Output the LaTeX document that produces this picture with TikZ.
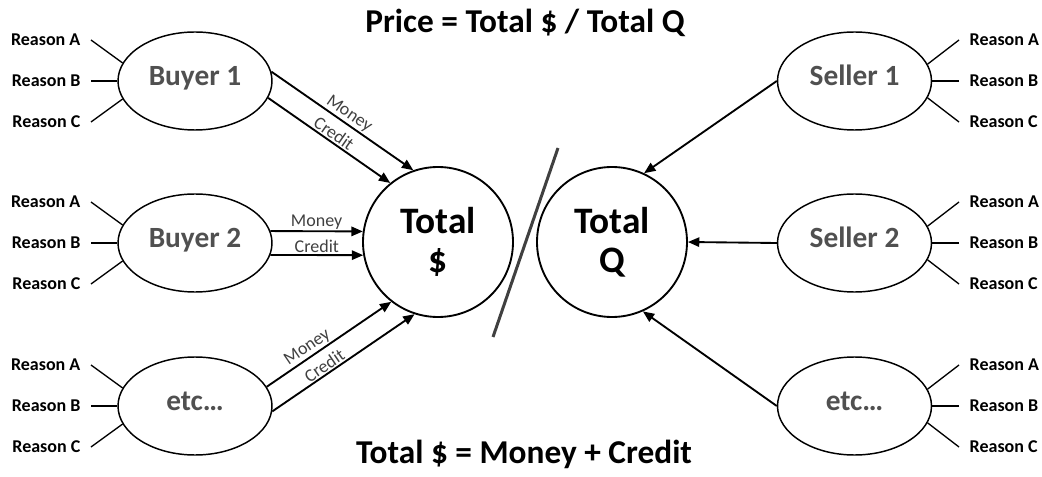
\documentclass[tikz,border=0pt]{standalone}
\usepackage{fontspec}
\setmainfont{Carlito}
\usepackage{xcolor}
\usepackage{tikz}
\usetikzlibrary{shapes.geometric, arrows.meta}
\definecolor{namegray}{HTML}{505050}
\definecolor{taggray}{HTML}{404040}

\begin{document}
\begin{tikzpicture}[x=0.75pt, y=-0.75pt, line width=1pt,
    >={Triangle[length=8.5pt, width=7pt]},
    party/.style={ellipse, draw, line width=1.1pt, minimum width=115.5pt, minimum height=73.5pt,
      inner sep=0pt, text height=0.7em, text depth=0pt,
      font=\bfseries\fontsize{22}{26}\selectfont, text=namegray},
    total/.style={circle, draw, line width=1.4pt, minimum size=112.5pt, inner sep=0pt,
      align=center, font=\bfseries\fontsize{28}{31.5}\selectfont},
    reason/.style={font=\bfseries\fontsize{13.5}{15}\selectfont, inner xsep=7.5pt, inner ysep=0pt},
    flow/.style={->, line width=1.4pt},
    tag/.style={font=\fontsize{13.5}{15}\selectfont, text=taggray, inner sep=1pt},
    heading/.style={font=\bfseries\fontsize{25}{30}\selectfont, anchor=base}]
  \useasboundingbox (0,0) rectangle (1042,477);

  \node[total] (dollar) at (438,242) {\raisebox{-2pt}{Total}\\\$};
  \node[total] (qty) at (612,242) {\raisebox{-2pt}{Total}\\Q};

  \node[party] (b1) at (195,81) {Buyer 1};
  \node[party] (b2) at (195,243) {Buyer 2};
  \node[party] (b3) at (195,406) {etc…};
  \node[party] (s1) at (854.5,81) {Seller 1};
  \node[party] (s2) at (854.5,243) {Seller 2};
  \node[party] (s3) at (854.5,406) {etc…};

  % reasons on each side
  \foreach \n/\y in {b1/81, b2/243, b3/406} {
    \node[reason, anchor=east] (\n-a) at (91,\y-41) {Reason A};
    \node[reason, anchor=east] (\n-b) at (91,\y) {Reason B};
    \node[reason, anchor=east] (\n-c) at (91,\y+41) {Reason C};
    \draw (\n-a.east) -- (\n.166);
    \draw (\n-b.east) -- (\n.west);
    \draw (\n-c.east) -- (\n.194);
  }
  \foreach \n/\y in {s1/81, s2/243, s3/406} {
    \node[reason, anchor=west] (\n-a) at (959,\y-41) {Reason A};
    \node[reason, anchor=west] (\n-b) at (959,\y) {Reason B};
    \node[reason, anchor=west] (\n-c) at (959,\y+41) {Reason C};
    \draw (\n-a.west) -- (\n.13);
    \draw (\n-b.west) -- (\n.east);
    \draw (\n-c.west) -- (\n.-13);
  }

  % buyers pay in
  \draw[flow] (b1.7) -- node[tag, sloped, above, pos=0.51] {Money} (dollar.109);
  \draw[flow] (b1.-13) -- node[tag, sloped, above] {Credit} (dollar.129);
  \draw[flow] (b2.9) -- node[tag, above] {Money} (dollar.172);
  \draw[flow] (b2.-9) -- node[tag, above] {Credit} (dollar.190);
  \draw[flow] (b3.15) -- node[tag, sloped, above, pos=0.37] {Money} (dollar.232);
  \draw[flow] (b3.-4) -- node[tag, sloped, above, pos=0.4] {Credit} (dollar.252);

  % sellers supply
  \draw[flow] (s1.west) -- (qty.65);
  \draw[flow] (s2.west) -- (qty.east);
  \draw[flow] (s3.west) -- (qty.-66);

  \draw[line width=2.25pt, taggray] (558,148) -- (493,337);

  \node[heading] (price) at (525,33) {Price = Total \$ / Total Q};
  \node[heading] (sum) at (524,463) {Total \$ = Money + Credit};
\end{tikzpicture}
\end{document}
